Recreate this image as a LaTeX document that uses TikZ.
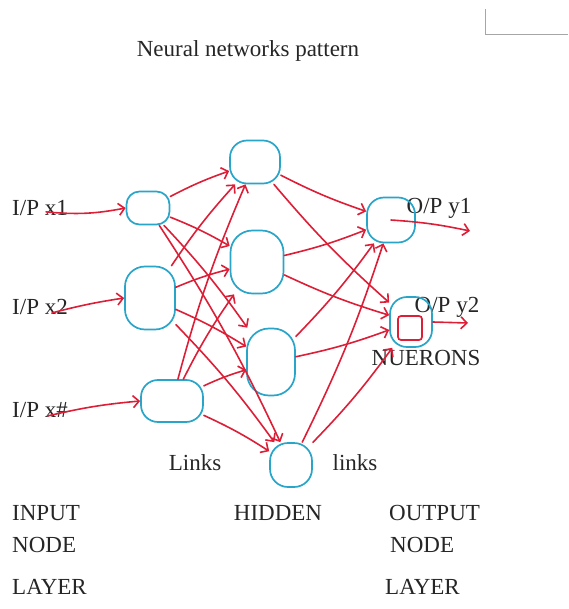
\documentclass[tikz,border=0pt]{standalone}
\usepackage{fontspec}
\setmainfont{Liberation Serif}
\usetikzlibrary{arrows.meta}
\definecolor{blobc}{RGB}{40,165,200}
\definecolor{linkc}{RGB}{220,30,55}
\tikzset{
  neuron/.style={draw=blobc, line width=1.7pt, rounded corners=14pt, inner sep=0pt},
  link/.style={draw=linkc, line width=1.6pt, line cap=round, -{Straight Barb[length=6pt,width=12pt]}},
  lbl/.style={font=\fontsize{23}{26}\selectfont, text=black!85, inner sep=0pt},
}
\begin{document}
\begin{tikzpicture}[x=1pt,y=-1pt]
\useasboundingbox (0,0) rectangle (568,609);
% page corner mark
\draw[black!35, line width=0.6pt] (485,9) -- (485,34) -- (568,34);
% title
\node[lbl] (title) at (248,51) {Neural networks pattern};
% input labels
\node[lbl, anchor=west] (x1) at (12,208) {I/P x1};
\node[lbl, anchor=west] (x2) at (12,307) {I/P x2};
\node[lbl, anchor=west] (x3) at (12,410) {I/P x\#};
% output labels
\node[lbl] (y1) at (439,208) {O/P y1};
\node[lbl] (y2) at (447,307) {O/P y2};
\node[lbl] (nu) at (426,358) {NUERONS};
\node[lbl] (lk1) at (195,463) {Links};
\node[lbl] (lk2) at (355,463) {links};
% bottom labels
\node[lbl, anchor=west] (inp) at (12,513) {INPUT};
\node[lbl, anchor=west] (inn) at (12,545) {NODE};
\node[lbl, anchor=west] (inl) at (12,587) {LAYER};
\node[lbl] (hid) at (278,513) {HIDDEN};
\node[lbl, anchor=west] (outp) at (389,513) {OUTPUT};
\node[lbl, anchor=west] (outn) at (390,545) {NODE};
\node[lbl, anchor=west] (outl) at (385,587) {LAYER};
% neurons
\node[neuron, minimum width=43pt, minimum height=33pt, rounded corners=13pt] (i1) at (148,208) {};
\node[neuron, minimum width=50pt, minimum height=63pt, rounded corners=20pt] (i2) at (150,298) {};
\node[neuron, minimum width=62pt, minimum height=42pt, rounded corners=17pt] (i3) at (172,401) {};
\node[neuron, minimum width=50pt, minimum height=43pt, rounded corners=17pt] (h1) at (255,162) {};
\node[neuron, minimum width=53pt, minimum height=63pt, rounded corners=22pt] (h2) at (257,262) {};
\node[neuron, minimum width=48pt, minimum height=67pt, rounded corners=22pt] (h3) at (271,362) {};
\node[neuron, minimum width=42pt, minimum height=44pt, rounded corners=18pt] (h4) at (291,465) {};
\node[neuron, minimum width=48pt, minimum height=45pt, rounded corners=17pt] (o1) at (391,220) {};
\node[neuron, minimum width=42pt, minimum height=50pt, rounded corners=17pt] (o2) at (411,322) {};
\node[draw=linkc, line width=1.7pt, rounded corners=3pt, minimum size=24pt, inner sep=0pt] (o2in) at (410,328) {};
% free ends
\coordinate (y1e) at (470,231);
\coordinate (y2e) at (468,323);
% input arrows
\draw[link] ([xshift=-22pt,yshift=4pt]x1.south east) to[bend right=8] (i1.west);
\draw[link] ([xshift=-16pt,yshift=2pt]x2.south east) to[bend left=3] (i2.west);
\draw[link] ([xshift=-20pt,yshift=2pt]x3.south east) to[bend left=4] (i3.west);
% input to hidden
\foreach \a in {i1,i2,i3}{
  \foreach \b in {h1,h2,h3,h4}{
    \draw[link] (\a) to[bend left=4] (\b);
  }
}
% hidden to output
\foreach \a in {h1,h2,h3,h4}{
  \foreach \b in {o1,o2}{
    \draw[link] (\a) to[bend right=4] (\b);
  }
}
% output arrows
\draw[link] (o1.center) to[bend left=4] (y1e);
\draw[link] (o2.east) -- (y2e);
\end{tikzpicture}
\end{document}
